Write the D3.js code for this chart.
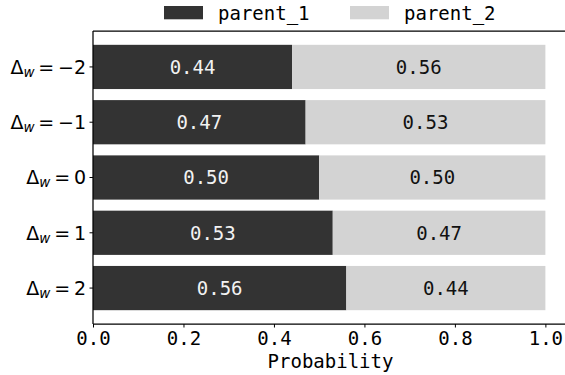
<!DOCTYPE html>
<html>
<head>
<meta charset="utf-8">
<script src="https://cdn.jsdelivr.net/npm/d3@7"></script>
<style>
  body { margin: 0; background: #fff; }
  svg { display: block; }
</style>
</head>
<body>
<svg id="chart" width="565" height="375"></svg>
<script>
// data
const deltas = [-2, -1, 0, 1, 2];
const parent1 = [0.44, 0.47, 0.50, 0.53, 0.56];
const parent2 = [0.56, 0.53, 0.50, 0.47, 0.44];
const seriesNames = ["parent_1", "parent_2"];
const xTicks = [0.0, 0.2, 0.4, 0.6, 0.8, 1.0];

const colors = ["#333333", "#d3d3d3"];
const mono = "'DejaVu Sans Mono', monospace";
const sans = "'DejaVu Sans', sans-serif";

const svg = d3.select("#chart");
const plotLeft = 93, plotRight = 568, plotTop = 31, plotBottom = 324;

const x = d3.scaleLinear().domain([0, 1.05]).range([plotLeft, plotRight]);
const y = d3.scaleLinear().domain([-0.65, 4.65]).range([plotTop, plotBottom]);
const barH = 0.8;

// rows
const rows = deltas.map((d, i) => ({ delta: d, i: i, p1: parent1[i], p2: parent2[i] }));

const g = svg.append("g");

// parent_1 bars
g.selectAll(".b1").data(rows).enter().append("rect")
    .attr("x", x(0))
    .attr("y", d => y(d.i - barH / 2))
    .attr("width", d => x(d.p1) - x(0))
    .attr("height", y(barH) - y(0))
    .attr("fill", colors[0]);

// parent_2 bars, stacked
g.selectAll(".b2").data(rows).enter().append("rect")
    .attr("x", d => x(d.p1))
    .attr("y", d => y(d.i - barH / 2))
    .attr("width", d => x(d.p1 + d.p2) - x(d.p1))
    .attr("height", y(barH) - y(0))
    .attr("fill", colors[1]);

// value labels
g.selectAll(".l1").data(rows).enter().append("text")
    .attr("x", d => x(d.p1 / 2))
    .attr("y", d => y(d.i))
    .attr("dy", "0.36em")
    .attr("text-anchor", "middle")
    .attr("font-family", mono).attr("font-size", 19)
    .attr("fill", "#f2f2f2")
    .text(d => d.p1.toFixed(2));

g.selectAll(".l2").data(rows).enter().append("text")
    .attr("x", d => x(d.p1 + d.p2 / 2))
    .attr("y", d => y(d.i))
    .attr("dy", "0.36em")
    .attr("text-anchor", "middle")
    .attr("font-family", mono).attr("font-size", 19)
    .attr("fill", "#111111")
    .text(d => d.p2.toFixed(2));

// spines
const spine = svg.append("g").attr("stroke", "#000").attr("stroke-width", 1.25).attr("fill", "none");
spine.append("line").attr("x1", plotLeft).attr("x2", plotRight).attr("y1", plotTop).attr("y2", plotTop);
spine.append("line").attr("x1", plotLeft).attr("x2", plotRight).attr("y1", plotBottom).attr("y2", plotBottom);
spine.append("line").attr("x1", plotLeft).attr("x2", plotLeft).attr("y1", plotTop).attr("y2", plotBottom);

// x axis
const xAxis = svg.append("g")
    .attr("transform", "translate(0," + plotBottom + ")")
    .call(d3.axisBottom(x).tickValues(xTicks).tickSize(3.5).tickPadding(4).tickFormat(d3.format(".1f")));
xAxis.select(".domain").remove();
xAxis.selectAll("line").attr("stroke", "#000").attr("stroke-width", 1);
xAxis.selectAll("text").attr("font-family", mono).attr("font-size", 19).attr("fill", "#000");

svg.append("text")
    .attr("x", (plotLeft + plotRight) / 2)
    .attr("y", 368)
    .attr("text-anchor", "middle")
    .attr("font-family", mono).attr("font-size", 19)
    .text("Probability");

// y ticks with math-style labels
const yAxis = svg.append("g");
yAxis.selectAll("line").data(rows).enter().append("line")
    .attr("x1", plotLeft - 3.5).attr("x2", plotLeft)
    .attr("y1", d => y(d.i)).attr("y2", d => y(d.i))
    .attr("stroke", "#000");

const yl = yAxis.selectAll("text").data(rows).enter().append("text")
    .attr("x", plotLeft - 7)
    .attr("y", d => y(d.i))
    .attr("dy", "0.36em")
    .attr("text-anchor", "end")
    .attr("font-family", sans).attr("font-size", 19)
    .attr("fill", "#000");
yl.append("tspan").text("\u0394");
yl.append("tspan").attr("font-style", "italic").attr("font-size", 13.5).attr("dy", 3).text("w");
yl.append("tspan").attr("dy", -3).text("\u2009=\u2009");
yl.append("tspan").text(d => (d.delta < 0 ? "\u2212" : "") + Math.abs(d.delta));

// legend
const legend = svg.append("g");
const legendX = [164, 350];
seriesNames.forEach((name, k) => {
    legend.append("rect")
        .attr("x", legendX[k]).attr("y", 6)
        .attr("width", 39).attr("height", 13.3)
        .attr("fill", colors[k]);
    legend.append("text")
        .attr("x", legendX[k] + 54).attr("y", 19.5)
        .attr("font-family", mono).attr("font-size", 19)
        .attr("fill", "#000")
        .text(name);
});
</script>
</body>
</html>
